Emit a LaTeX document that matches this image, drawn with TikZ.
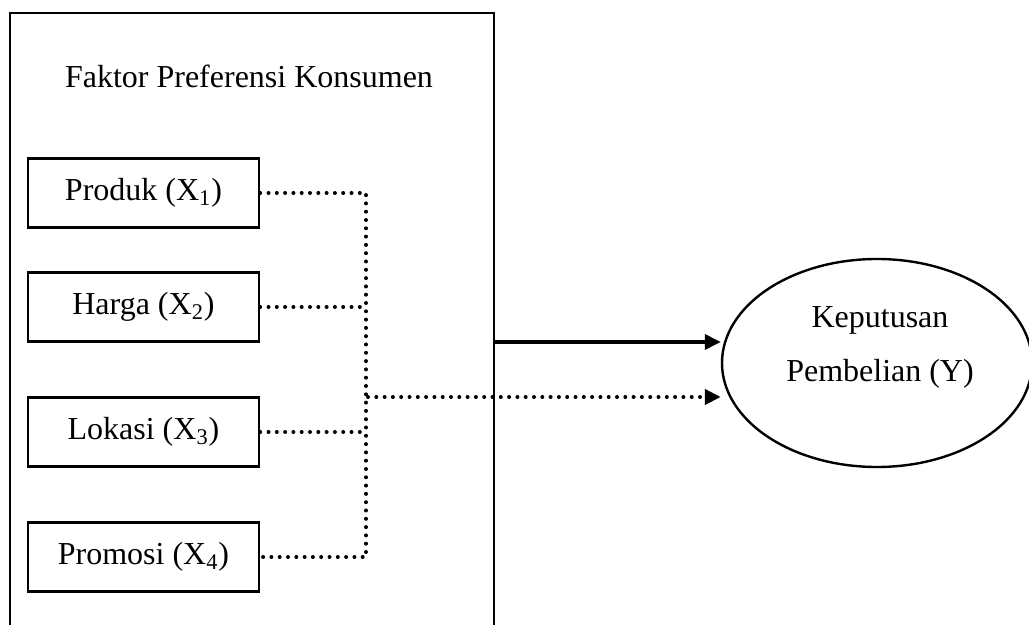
\documentclass[tikz,border=0pt]{standalone}
\usepackage{fontspec}
\setmainfont{Liberation Serif}
\usetikzlibrary{arrows.meta,shapes.geometric}
\begin{document}
\begin{tikzpicture}[x=0.5pt,y=-0.5pt,
  every node/.style={font=\fontsize{16}{27}\selectfont},
  frameline/.style={line width=0.9pt},
  varbox/.style={draw,line width=1.2pt,minimum width=115.5pt,minimum height=34.5pt,inner sep=0pt},
  dotline/.style={line width=2pt,line cap=round,dash pattern=on 0pt off 4.15pt},
  tip/.style={-{Triangle[length=8pt,width=7.5pt]}},
  solidarrow/.style={line width=1.8pt,tip}
]
\useasboundingbox (0,0) rectangle (1029,625);
% outer frame (open at the bottom)
\coordinate (obl) at (10,625);
\coordinate (otl) at (10,13);
\coordinate (otr) at (494,13);
\coordinate (obr) at (494,625);
\draw[frameline] (obl) -- (otl) -- (otr) -- (obr);
\node[anchor=base] (title) at (249,88) {Faktor Preferensi Konsumen};
% variable boxes
\node[varbox] (p1) at (143.5,193) {Produk (X\textsubscript{1})};
\node[varbox] (p2) at (143.5,307) {Harga (X\textsubscript{2})};
\node[varbox] (p3) at (143.5,432) {Lokasi (X\textsubscript{3})};
\node[varbox] (p4) at (143.5,557) {Promosi (X\textsubscript{4})};
% ellipse
\node[draw,ellipse,line width=1.2pt,minimum width=155pt,minimum height=104pt,inner sep=0pt] (ell) at (877,363) {};
\node[align=center] (ytext) at (880,347) {Keputusan\\Pembelian (Y)};
% junctions
\coordinate (j1) at (366,193);
\coordinate (j4) at (366,557);
\coordinate (j0) at (368,397);
\coordinate (sa) at (494,342);
% dotted connectors
\draw[dotline] (p1.east) -- (j1) -- (j4) -- (p4.east);
\draw[dotline] (p2.east) -- (p2.east -| j1);
\draw[dotline] (p3.east) -- (p3.east -| j1);
\draw[dotline,tip] (j0) -- (j0 -| ell.west);
% solid arrow
\draw[solidarrow] (sa) -- (sa -| ell.west);
\end{tikzpicture}
\end{document}
